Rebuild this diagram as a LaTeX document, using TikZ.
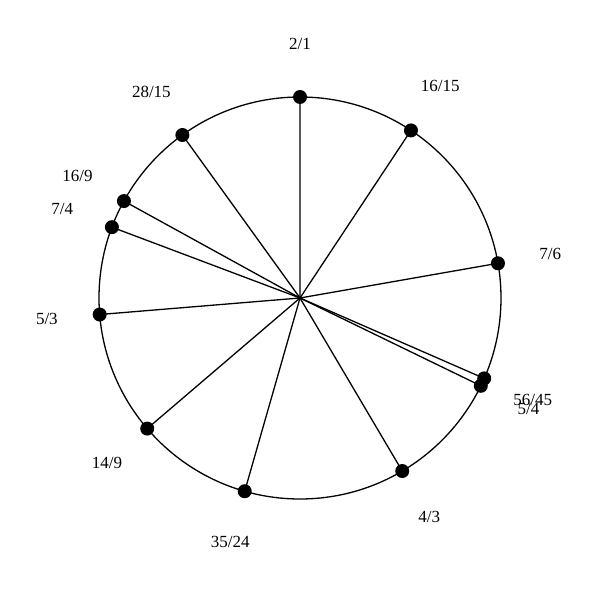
\documentclass[tikz,border=0pt]{standalone}
\usepackage{fontspec}
\setmainfont{Liberation Serif}
\begin{document}
\begin{tikzpicture}[x=1pt,y=1pt,
  dotnode/.style={circle,fill=black,inner sep=0pt,minimum size=14pt},
  lbl/.style={font=\fontsize{17}{20}\selectfont, inner sep=0pt},
  spoke/.style={line width=1.3pt}]
\useasboundingbox (0,0) rectangle (600,600);
\coordinate (c) at (300,302);
\draw[spoke] (c) circle (201);
\foreach \pa/\pb/\i in {2/1/a,16/15/b,7/6/c,56/45/d,5/4/e,4/3/f,35/24/g,14/9/h,5/3/k,7/4/m,16/9/n,28/15/o}{
  \pgfmathsetmacro{\ang}{90-360*ln(\pa/\pb)/ln(2)}
  \draw[spoke] (c) -- ([shift={(\ang:201)}]c) node[dotnode] (p\i) {};
  \node[lbl] (l\i) at ([shift={(\ang:254)}]c) {\pa/\pb};
}
\end{tikzpicture}
\end{document}
